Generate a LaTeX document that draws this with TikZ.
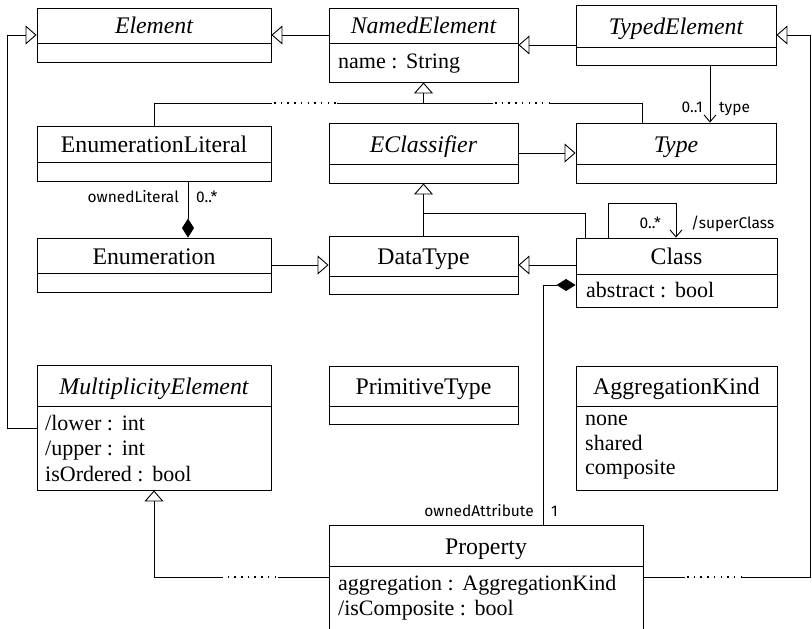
\documentclass[tikz,border=0pt]{standalone}
\usepackage{fontspec}
\setmainfont{Liberation Serif}
\newfontfamily\lblfont{Fira Sans}
\usetikzlibrary{arrows.meta,calc,fit}
\tikzset{
  umlbox/.style={draw, line width=0.9pt, inner sep=0pt},
  title/.style={anchor=base, inner sep=0pt, font=\fontsize{23.8}{25}\selectfont},
  attr/.style={anchor=base west, inner sep=0pt, font=\fontsize{22}{25}\selectfont},
  lbl/.style={inner sep=0pt, font=\lblfont\fontsize{15.5}{17}\selectfont},
  conn/.style={line width=0.9pt},
  gen/.style={conn, -{Triangle[open, length=11pt, width=19pt, line width=0.9pt]}},
  assoc/.style={conn, -{Straight Barb[length=7pt, width=12pt, line width=0.9pt]}},
  comp/.style={conn, {Diamond[length=19pt, width=12pt]}-},
  dots/.style={line width=1.3pt, dash pattern=on 1.5pt off 5.2pt},
}
% #1 name, #2 x1, #3 y1, #4 x2, #5 ydiv, #6 y2, #7 title
\newcommand\umlclass[7]{%
  \node[umlbox, fit={(#2,#3) (#4,#6)}] (#1) {};
  \draw[line width=0.9pt] (#1.west |- 0,#5) -- (#1.east |- 0,#5);
  \node[title] (#1-t) at ({(#2+#4)/2},{(#3+#5)/2+8.5}) {#7};
}
\newcommand\colsep{~:\hspace{0.4em}}
\begin{document}
\begin{tikzpicture}[x=1pt, y=-1pt]
\path[use as bounding box] (0,0) rectangle (812,629);
\clip (0,0) rectangle (812,629);

% classes
\umlclass{Element}{37}{8}{271}{43}{62}{\itshape Element}
\umlclass{NamedElement}{329}{8}{518}{43}{82}{\itshape NamedElement}
\umlclass{TypedElement}{576}{5}{776}{47}{65}{\itshape TypedElement}
\umlclass{EnumLit}{37}{126}{271}{162}{181}{EnumerationLiteral}
\umlclass{EClassifier}{329}{123}{518}{164}{183}{\itshape EClassifier}
\umlclass{Type}{576}{123}{776}{164}{183}{\itshape Type}
\umlclass{Enumeration}{37}{238}{271}{273}{292}{Enumeration}
\umlclass{DataType}{329}{236}{518}{276}{294}{DataType}
\umlclass{Class}{576}{238}{777}{274}{307}{Class}
\umlclass{PrimType}{329}{366}{518}{406}{424}{PrimitiveType}
\umlclass{AggKind}{576}{366}{777}{406}{490}{AggregationKind}
\umlclass{MultElem}{37}{365}{271}{406}{490}{\itshape MultiplicityElement}
\umlclass{Property}{329}{525}{643}{566}{660}{Property}

% attributes
\node[attr] (ne-a1) at (338,68) {name\colsep String};
\node[attr] (cl-a1) at (586,297) {abstract\colsep bool};
\node[attr] (me-a1) at (45,430) {/lower\colsep int};
\node[attr] (me-a2) at (45,455.5) {/upper\colsep int};
\node[attr] (me-a3) at (45,481) {isOrdered\colsep bool};
\node[attr] (ak-a1) at (585,425) {none};
\node[attr] (ak-a2) at (585,450) {shared};
\node[attr] (ak-a3) at (585,474) {composite};
\node[attr] (pr-a1) at (338,590) {aggregation\colsep AggregationKind};
\node[attr] (pr-a2) at (338,615) {/isComposite\colsep bool};

% generalizations
\draw[gen] (MultElem.west |- 0,428) -- (7.3,428) -- (7.3,35) -- (Element.west |- 0,35);
\draw[gen] (NamedElement.west |- 0,35) -- (Element.east |- 0,35);
\draw[gen] (TypedElement.west |- 0,45) -- (NamedElement.east |- 0,45);
\draw[gen] (EClassifier.east |- 0,153) -- (Type.west |- 0,153);
\draw[gen] (Enumeration.east |- 0,265) -- (DataType.west |- 0,265);
\draw[gen] (Class.west |- 0,265) -- (DataType.east |- 0,265);

% tree to NamedElement
\coordinate (j1) at (NamedElement.south |- 0,103);
\draw[gen] (j1) -- (NamedElement.south);
\draw[conn] (EnumLit.north -| 154,0) |- (272,103);
\draw[dots] (274,103) -- (337,103);
\draw[conn] (337,103) -- (493,103);
\draw[dots] (495,103) -- (550,103);
\draw[conn] (550,103) -| (Type.north -| 642,0);

% tree to EClassifier
\draw[gen] (DataType.north) -- (EClassifier.south);
\draw[conn] (Class.north -| 585,0) |- (DataType.north |- 0,213);

% Property generalizations
\draw[conn] (Property.west |- 0,577) -- (278,577);
\draw[dots] (276,577) -- (223,577);
\draw[gen] (223,577) -| (MultElem.south -| 154,0);
\draw[conn] (Property.east |- 0,577) -- (685,577);
\draw[dots] (687,577) -- (742,577);
\draw[gen] (742,577) -- (810.5,577) -- (810.5,35) -- (TypedElement.east |- 0,35);

% associations
\draw[assoc] (TypedElement.south -| 710,0) -- (Type.north -| 710,0);
\node[lbl, anchor=base east] (l-type-m) at (703,112) {0..1};
\node[lbl, anchor=base west] (l-type) at (719,112) {type};

\draw[assoc] (Class.north -| 608,0) -- (608,203) -- (676,203) -- (Class.north -| 676,0);
\node[lbl, anchor=base east] (l-sc-m) at (661,228) {0..*};
\node[lbl, anchor=base west] (l-sc) at (691,228) {/superClass};

\draw[comp] (Enumeration.north -| 188,0) -- (EnumLit.south -| 188,0);
\node[lbl, anchor=base east] (l-ol) at (179,202) {ownedLiteral};
\node[lbl, anchor=base west] (l-ol-m) at (196,202) {0..*};

\draw[comp] (Class.west |- 0,285) -| (Property.north -| 543,0);
\node[lbl, anchor=base east] (l-oa) at (534,516) {ownedAttribute};
\node[lbl, anchor=base west] (l-oa-m) at (551,516) {1};
\end{tikzpicture}
\end{document}
